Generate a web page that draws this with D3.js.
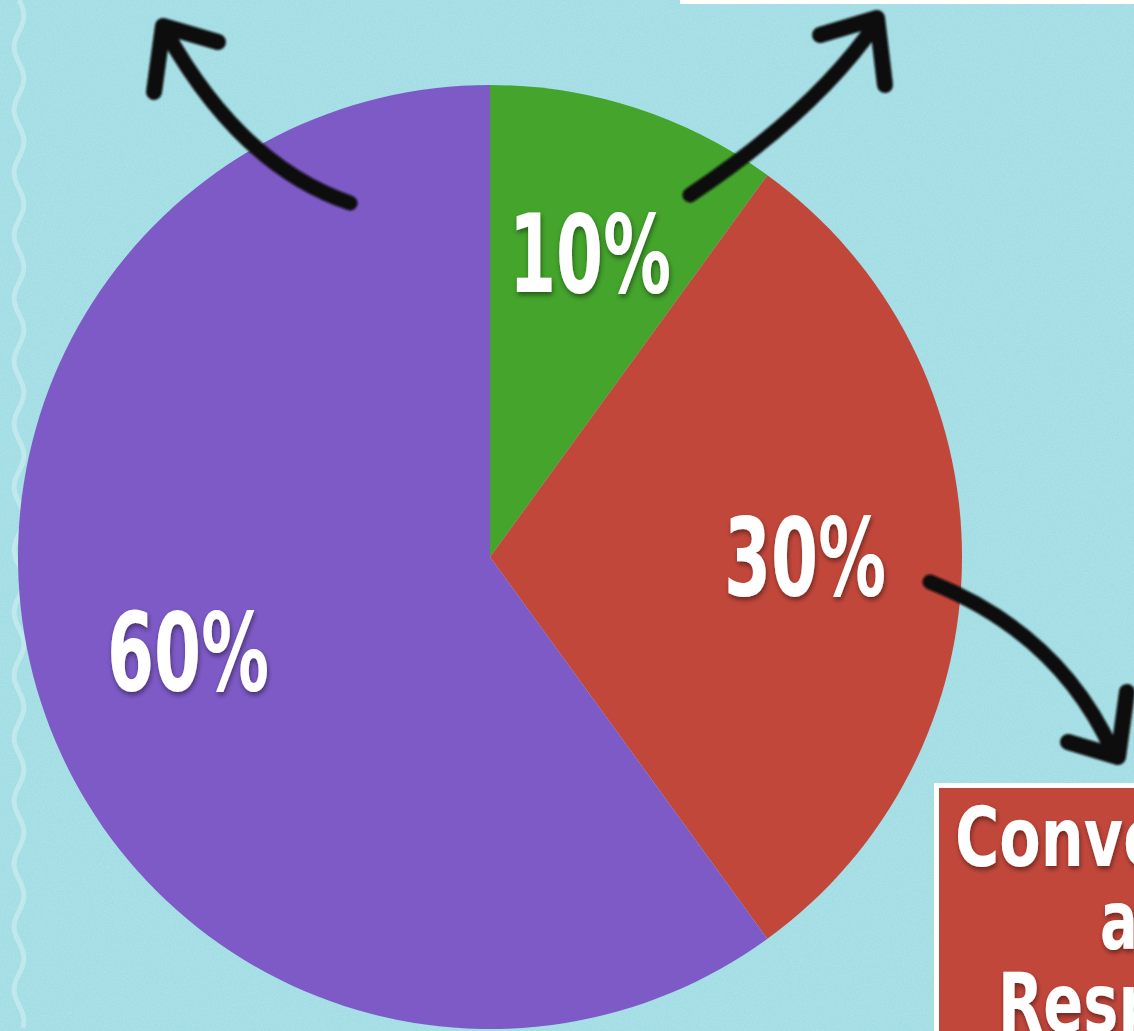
<!DOCTYPE html>
<html>
<head>
<meta charset="utf-8">
<script src="https://cdn.jsdelivr.net/npm/d3@7"></script>
<style>
  html, body { margin: 0; padding: 0; background: #a2dde4; overflow: hidden; }
  svg { display: block; }
</style>
</head>
<body>
<svg id="chart" width="1134" height="1031"></svg>
<script>
// ---- data ----
const categories = ["Green", "Red", "Purple"];
const values = [10, 30, 60];
const labels = ["10%", "30%", "60%"];
const colors = ["#44a42c", "#c2473b", "#7d5ac6"];
const boxLines = ["Conversion", "and", "Response"];

const W = 1134, H = 1031;
const cx = 490, cy = 557, R = 472;

const svg = d3.select("#chart");
const defs = svg.append("defs");

// paper noise texture
const noise = defs.append("filter").attr("id", "noise")
  .attr("filterUnits", "userSpaceOnUse").attr("x", 0).attr("y", 0).attr("width", W).attr("height", H);
noise.append("feTurbulence").attr("type", "fractalNoise").attr("baseFrequency", 0.9).attr("numOctaves", 3).attr("seed", 4).attr("result", "t");
noise.append("feColorMatrix").attr("in", "t").attr("type", "matrix")
  .attr("values", "0 0 0 0 1  0 0 0 0 1  0 0 0 0 1  0 0 0 0.55 -0.18");

const shadow = defs.append("filter").attr("id", "tshadow").attr("x", "-20%").attr("y", "-20%").attr("width", "140%").attr("height", "140%");
shadow.append("feDropShadow").attr("dx", 1).attr("dy", 3).attr("stdDeviation", 2.5).attr("flood-color", "#000").attr("flood-opacity", 0.45);

const blur = defs.append("filter").attr("id", "soft");
blur.append("feGaussianBlur").attr("stdDeviation", 0.8);

// background
svg.append("rect").attr("width", W).attr("height", H).attr("fill", "#a2dde4");
svg.append("rect").attr("width", W).attr("height", H).attr("filter", "url(#noise)").attr("opacity", 0.5);

// wavy left border line
const wave = [];
for (let y = 0; y <= H; y += 4) {
  wave.push([19 + 5 * Math.sin(y / 10), y]);
}
svg.append("path")
  .attr("d", d3.line().curve(d3.curveBasis)(wave))
  .attr("fill", "none").attr("stroke", "#e6f7f8").attr("stroke-width", 5).attr("opacity", 0.4);

// top white strip
svg.append("rect").attr("x", 680).attr("y", 0).attr("width", W - 680).attr("height", 4).attr("fill", "#ffffff");

// pie
const pie = d3.pie().sort(null).value(d => d.v).startAngle(0).endAngle(2 * Math.PI);
const arcs = pie(values.map((v, i) => ({ v, c: colors[i], l: labels[i], k: categories[i] })));
const arc = d3.arc().innerRadius(0).outerRadius(R);

const g = svg.append("g").attr("transform", `translate(${cx},${cy})`);
g.selectAll("path.slice").data(arcs).join("path")
  .attr("class", "slice")
  .attr("d", arc)
  .attr("fill", d => d.data.c);

// labels
const labelArc = [
  { x: 590, y: 292 },
  { x: 805, y: 595 },
  { x: 188, y: 690 }
];
svg.selectAll("text.pct").data(arcs).join("text")
  .attr("class", "pct")
  .attr("x", (d, i) => labelArc[i].x)
  .attr("y", (d, i) => labelArc[i].y)
  .attr("text-anchor", "middle")
  .attr("font-family", "'DejaVu Sans Condensed', 'Liberation Sans Narrow', sans-serif")
  .attr("font-weight", "bold")
  .attr("font-size", 108)
  .attr("textLength", 162)
  .attr("lengthAdjust", "spacingAndGlyphs")
  .attr("fill", "#ffffff")
  .attr("filter", "url(#tshadow)")
  .text(d => d.data.l);

// arrows (quadratic shafts)
function arrow(p0, c, p1, head) {
  const ag = svg.append("g").attr("filter", "url(#soft)");
  const p = d3.path();
  p.moveTo(p0[0], p0[1]);
  p.quadraticCurveTo(c[0], c[1], p1[0], p1[1]);
  ag.append("path")
    .attr("d", p.toString())
    .attr("fill", "none").attr("stroke", "#0a0a0a").attr("stroke-width", 15)
    .attr("stroke-linecap", "round").attr("stroke-linejoin", "round");
  ag.append("path")
    .attr("d", d3.line()(head))
    .attr("fill", "none").attr("stroke", "#0a0a0a").attr("stroke-width", 16)
    .attr("stroke-linecap", "round").attr("stroke-linejoin", "round");
}
arrow([350, 203], [241, 166], [166, 32], [[218, 42], [163, 26], [154, 92]]);
arrow([690, 195], [816, 111], [877, 22], [[820, 35], [877, 18], [885, 85]]);
arrow([930, 582], [1059, 633], [1113, 752], [[1068, 742], [1118, 757], [1127, 692]]);

// red box bottom-right
const bx = 936, by = 785;
svg.append("rect").attr("x", bx - 2).attr("y", by - 2).attr("width", W - bx + 10).attr("height", H - by + 10)
  .attr("fill", "#ffffff");
svg.append("rect").attr("x", bx + 3).attr("y", by + 3).attr("width", W - bx + 10).attr("height", H - by + 10)
  .attr("fill", "#c2473b");

const boxX = [955, 1100, 998];
const boxY = [866, 949, 1032];
const boxLen = [380, 118, 320];
svg.selectAll("text.box").data(boxLines).join("text")
  .attr("class", "box")
  .attr("x", (d, i) => boxX[i])
  .attr("y", (d, i) => boxY[i])
  .attr("font-family", "'DejaVu Sans Condensed', 'Liberation Sans Narrow', sans-serif")
  .attr("font-weight", "bold")
  .attr("font-size", 82)
  .attr("textLength", (d, i) => boxLen[i])
  .attr("lengthAdjust", "spacingAndGlyphs")
  .attr("fill", "#ffffff")
  .attr("filter", "url(#tshadow)")
  .text(d => d);
</script>
</body>
</html>
